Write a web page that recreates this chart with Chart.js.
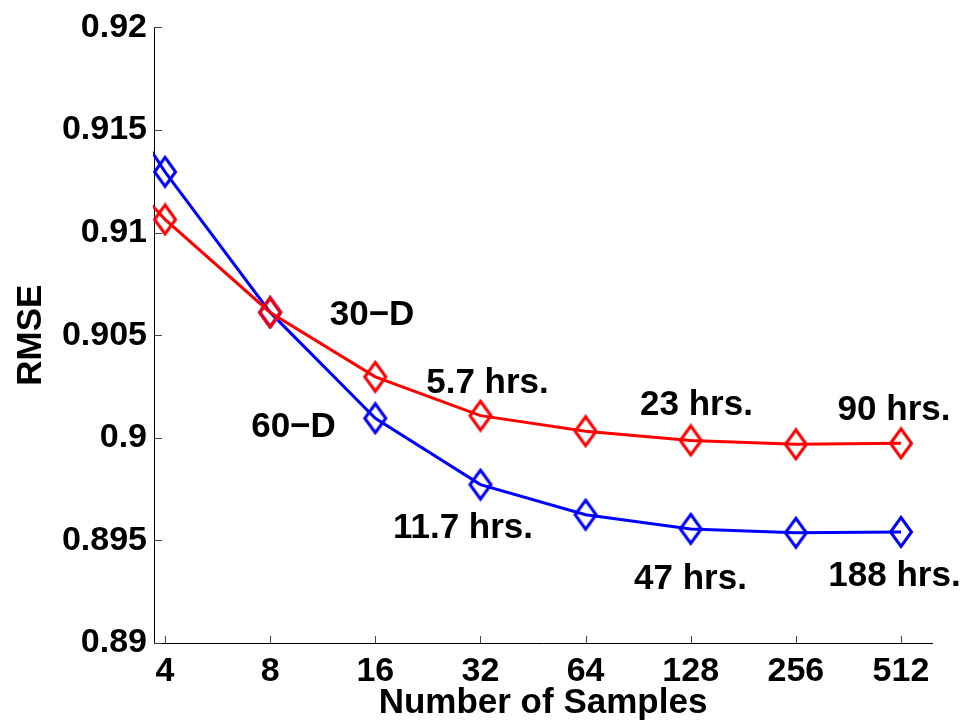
<!DOCTYPE html>
<html>
<head>
<meta charset="utf-8">
<script src="https://cdn.jsdelivr.net/npm/chart.js@4"></script>
<style>
  body { margin: 0; background: #fff; }
</style>
</head>
<body>
<canvas id="rmseChart" width="978" height="724"></canvas>
<script>
// number of samples (first one lies left of the axis and is clipped)
const samples = [2, 4, 8, 16, 32, 64, 128, 256, 512];
const rmse30D = [0.9162, 0.91064, 0.90611, 0.90297, 0.90108, 0.90032, 0.89987, 0.89968, 0.89973];
const rmse60D = [0.9208, 0.91296, 0.90611, 0.90095, 0.89772, 0.89625, 0.89556, 0.89537, 0.89541];
const yTicks = [0.89, 0.895, 0.9, 0.905, 0.91, 0.915, 0.92];
const tickSamples = [4, 8, 16, 32, 64, 128, 256, 512];

// text notes: [text, log2(samples), rmse]
const notes = [
  ["30\u2212D", 3.969, 0.90599],
  ["60\u2212D", 3.222, 0.90051],
  ["5.7 hrs.", 5.067, 0.90266],
  ["11.7 hrs.", 4.834, 0.89557],
  ["23 hrs.", 7.055, 0.90160],
  ["47 hrs.", 6.998, 0.89312],
  ["90 hrs.", 8.934, 0.90136],
  ["188 hrs.", 8.938, 0.89323]
];

const FONT = "'Liberation Sans', Arial, sans-serif";

// MATLAB style diamond (taller than wide, open)
function diamond(color) {
  const c = document.createElement("canvas");
  c.width = 26; c.height = 34;
  const g = c.getContext("2d");
  g.strokeStyle = color;
  g.lineWidth = 3;
  g.beginPath();
  g.moveTo(13, 2.5);
  g.lineTo(23.5, 17);
  g.lineTo(13, 31.5);
  g.lineTo(2.5, 17);
  g.closePath();
  g.stroke();
  return c;
}

const toXY = vals => vals.map((v, i) => ({ x: Math.log2(samples[i]), y: v }));

// inward tick marks + text notes
const extras = {
  id: "extras",
  afterDraw(chart) {
    const { ctx, chartArea: a, scales: { x, y } } = chart;
    ctx.save();
    ctx.strokeStyle = "#444";
    ctx.lineWidth = 1;
    ctx.beginPath();
    y.ticks.forEach(t => {
      const py = Math.round(y.getPixelForValue(t.value)) + 0.5;
      ctx.moveTo(a.left, py); ctx.lineTo(a.left + 8, py);
    });
    x.ticks.forEach(t => {
      const px = Math.round(x.getPixelForValue(t.value)) + 0.5;
      ctx.moveTo(px, a.bottom); ctx.lineTo(px, a.bottom - 7);
    });
    ctx.stroke();
    ctx.fillStyle = "#000";
    ctx.font = "bold 35px " + FONT;
    ctx.textAlign = "center";
    ctx.textBaseline = "middle";
    notes.forEach(([txt, nx, ny]) => {
      ctx.fillText(txt, x.getPixelForValue(nx), y.getPixelForValue(ny));
    });
    ctx.restore();
  }
};

new Chart(document.getElementById("rmseChart"), {
  type: "line",
  data: {
    datasets: [{
      label: "30-D",
      data: toXY(rmse30D),
      borderColor: "#ff0000",
      borderWidth: 3,
      pointStyle: diamond("#ff0000"),
      clip: 1,
      tension: 0
    }, {
      label: "60-D",
      data: toXY(rmse60D),
      borderColor: "#0000ff",
      borderWidth: 3,
      pointStyle: diamond("#0000ff"),
      clip: 1,
      tension: 0
    }]
  },
  options: {
    responsive: false,
    animation: false,
    layout: { padding: { top: 21, right: 46, left: 0, bottom: 0 } },
    plugins: { legend: { display: false }, tooltip: { enabled: false } },
    scales: {
      x: {
        type: "linear",
        min: 1.895,
        max: 9.295,
        afterFit: s => { s.height = 81; },
        afterBuildTicks: s => { s.ticks = tickSamples.map(v => ({ value: Math.log2(v) })); },
        grid: { display: false, drawTicks: false },
        border: { display: true, color: "#000", width: 1 },
        ticks: {
          autoSkip: false,
          maxRotation: 0,
          padding: 8,
          color: "#000",
          font: { family: FONT, size: 34, weight: "bold" },
          callback: v => String(Math.round(Math.pow(2, v)))
        },
        title: {
          display: true,
          text: "Number of Samples",
          color: "#000",
          padding: { top: 0, bottom: 3 },
          font: { family: FONT, size: 35, weight: "bold", lineHeight: 1 }
        }
      },
      y: {
        min: 0.89,
        max: 0.92,
        afterFit: s => { s.width = 154; },
        afterBuildTicks: s => { s.ticks = yTicks.map(v => ({ value: v })); },
        grid: { display: false, drawTicks: false },
        border: { display: true, color: "#000", width: 1 },
        ticks: {
          padding: 7,
          color: "#000",
          font: { family: FONT, size: 34, weight: "bold" },
          callback: v => String(Number(v.toFixed(3)))
        },
        title: {
          display: true,
          text: "RMSE",
          color: "#000",
          padding: { top: 14, bottom: 0 },
          font: { family: FONT, size: 35, weight: "bold", lineHeight: 1 }
        }
      }
    }
  },
  plugins: [extras]
});
</script>
</body>
</html>
